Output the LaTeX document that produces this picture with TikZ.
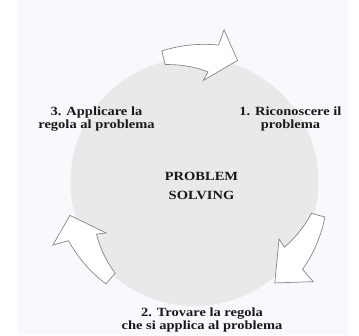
\documentclass[tikz,border=0pt]{standalone}
\usepackage{fontspec}
\setmainfont{Liberation Serif}[FakeStretch=1.16]

\definecolor{panel}{RGB}{249,249,253}
\definecolor{disc}{RGB}{233,233,233}
\definecolor{outline}{RGB}{135,135,135}
\definecolor{ink}{RGB}{25,25,25}

% curved block arrow: tail angle, head angle, tip angle
\newcommand{\cyclearrow}[3]{%
	\draw[arw] plot[domain={#1}:{#2}, samples=20, variable=\t] ({\t}:{121-10*(\t-(#1))/((#2)-(#1))})
		-- ({#2+2}:102) -- ({#3}:129) -- ({#2-4}:155) -- ({#2-3}:139)
		-- plot[domain={#2-3}:{#1}, samples=20, variable=\t] ({\t}:{135+4*(\t-(#1))/((#2)-3-(#1))})
		-- cycle;}

\begin{document}
\begin{tikzpicture}[x=1pt, y=1pt]
		\tikzset{lbl/.style={align=center, inner sep=0pt, text=ink, font=\bfseries\fontsize{12.5}{13.8}\selectfont}};
		\tikzset{arw/.style={draw=outline, fill=white, line width=0.7pt, line join=miter}};

		\useasboundingbox (0, 0) rectangle (359, 335);
		\fill[white] (0, 0) rectangle (359, 335);
		\fill[panel] (18, 0) rectangle (348, 335);

		\fill[disc] (194.5, 153) circle [radius=124];

		\begin{scope}[shift={(194.5, 153)}]
			\cyclearrow{104}{83}{70.5}
			\cyclearrow{-15}{-36}{-51.5}
			\cyclearrow{229}{208}{195}
		\end{scope}

		\node[lbl] (step1) at (290.5, 216) {1. Riconoscere il\\problema};
		\node[lbl] (step2) at (202, 15) {2. Trovare la regola\\che si applica al problema};
		\node[lbl] (step3) at (96.5, 216) {3. Applicare la\\regola al problema};
		\node[lbl] (core) at (201.5, 149) {PROBLEM\\[5.5pt]SOLVING};

	\end{tikzpicture}
\end{document}
